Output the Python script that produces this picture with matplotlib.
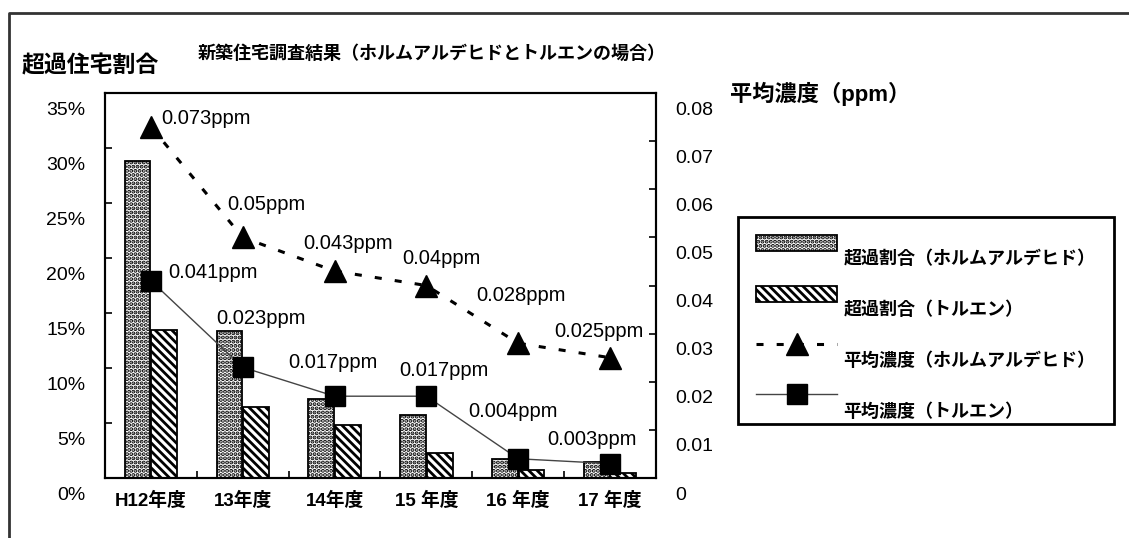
import numpy as np
import matplotlib.pyplot as plt
import matplotlib.transforms as mtransforms
from matplotlib.lines import Line2D

plt.rcParams['font.family'] = ['Liberation Sans', 'Noto Sans CJK JP', 'DejaVu Sans']
plt.rcParams['hatch.linewidth'] = 2.0

years = ['H12年度', '13年度', '14年度', '15 年度', '16 年度', '17 年度']
over_form = [28.8, 13.4, 7.2, 5.7, 1.7, 1.5]    # 超過割合(ホルムアルデヒド) %
over_tol = [13.5, 6.5, 4.8, 2.3, 0.7, 0.5]      # 超過割合(トルエン) %
avg_form = [0.073, 0.05, 0.043, 0.04, 0.028, 0.025]  # ppm
avg_tol = [0.041, 0.023, 0.017, 0.017, 0.004, 0.003]
pct_ticks = [0, 5, 10, 15, 20, 25, 30, 35]
ppm_ticks = [0, 0.01, 0.02, 0.03, 0.04, 0.05, 0.06, 0.07, 0.08]

# label offsets (pixels) from each marker
form_off = [(10, 8), (-15, 33), (-31, 28), (-24, 27), (-42, 48), (-56, 26)]
tol_off = [(17, 8), (-26, 49), (-46, 34), (-27, 26), (-50, 47), (-63, 24)]

fig = plt.figure(figsize=(11.29, 5.38), dpi=100)
ax = fig.add_axes([0.093, 0.1115, 0.488, 0.7156])
ax2 = ax.twinx()

x = np.arange(len(years))
w = 0.28
b1 = ax.bar(x - 0.145, over_form, w, color='white', edgecolor='black',
            hatch='....', lw=1.3, label='超過割合（ホルムアルデヒド）')
b2 = ax.bar(x + 0.145, over_tol, w, color='white', edgecolor='black',
            hatch='\\' * 4, lw=1.3, label='超過割合（トルエン）')
ax.set_xlim(-0.5, 5.5)
ax.set_ylim(0, 35)
ax.set_yticks(pct_ticks)
ax.set_yticklabels([f'{v}%' for v in pct_ticks])
ax.set_xticks(x)
ax.set_xticklabels(years, fontweight='bold')
ax.set_xticks(np.arange(0.5, 5, 1), minor=True)
ax.tick_params(axis='x', which='major', length=0, pad=10, labelsize=13.5)
ax.tick_params(axis='x', which='minor', direction='in', length=5, width=1.2)
ax.tick_params(axis='y', direction='in', length=5, width=1.2, pad=14, labelsize=14)

l1, = ax2.plot(x, avg_form, ls=(0, (2.3, 4.3)), lw=2.2, color='black',
               marker='^', ms=15.5, label='平均濃度（ホルムアルデヒド）')
l2, = ax2.plot(x, avg_tol, '-', lw=1, color='#444444', marker='s', ms=15,
               mfc='black', mec='black', label='平均濃度（トルエン）')
ax2.set_ylim(0, 0.08)
ax2.set_yticks(ppm_ticks)
ax2.set_yticklabels(['0'] + [f'{v:.2f}' for v in ppm_ticks[1:]])
ax2.tick_params(axis='y', direction='in', length=5, width=1.2, pad=14, labelsize=14)

for a in (ax, ax2):
    for s in a.spines.values():
        s.set_linewidth(1.5)

for xi, v, off in zip(x, avg_form, form_off):
    ax2.annotate(f'{v}ppm', (xi, v), xytext=off, textcoords='offset pixels',
                 ha='left', va='center', fontsize=14.5)
for xi, v, off in zip(x, avg_tol, tol_off):
    ax2.annotate(f'{v}ppm', (xi, v), xytext=off, textcoords='offset pixels',
                 ha='left', va='center', fontsize=14.5)

# tick labels sit a bit below their ticks
shift = mtransforms.ScaledTranslation(0, -0.15, fig.dpi_scale_trans)
for lab in ax.get_yticklabels() + ax2.get_yticklabels():
    lab.set_transform(lab.get_transform() + shift)

leg = fig.legend(handles=[b1, b2, l1, l2], loc='upper left',
                 bbox_to_anchor=(0.6537, 0.5967),
                 prop={'size': 13, 'weight': 'bold'},
                 fancybox=False, edgecolor='black', framealpha=1,
                 handlelength=4.5, handleheight=1.0, handletextpad=0.35,
                 labelspacing=1.8, borderpad=1.0, borderaxespad=0, numpoints=1)
leg.get_frame().set_linewidth(2)
for t in leg.get_texts():
    t.set_position((0, -15))

fig.text(22 / 1129, 1 - 66 / 538, '超過住宅割合', fontsize=16.5, fontweight='bold',
         va='center', ha='left')
fig.text(198 / 1129, 1 - 54 / 538, '新築住宅調査結果（ホルムアルデヒドとトルエンの場合）',
         fontsize=13, fontweight='bold', va='center', ha='left')
fig.text(730 / 1129, 1 - 94 / 538, '平均濃度（ppm）', fontsize=16, fontweight='bold',
         va='center', ha='left')

fig.add_artist(Line2D([0.008, 0.008, 1.0], [0.0, 0.9758, 0.9758],
                      transform=fig.transFigure, color='#333333', lw=2))

fig.savefig('out.png', dpi=100)
